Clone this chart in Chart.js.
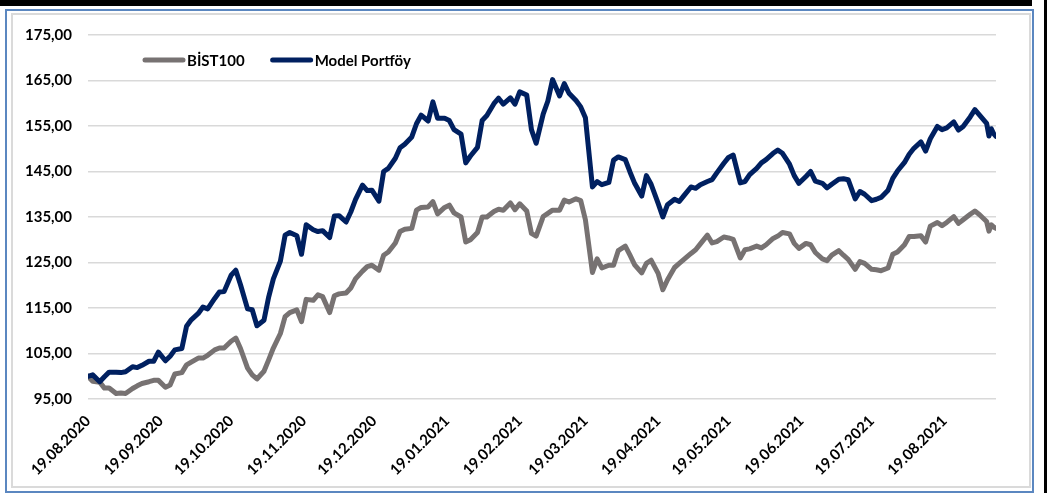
<!DOCTYPE html>
<html>
<head>
<meta charset="utf-8">
<script src="https://cdn.jsdelivr.net/npm/chart.js@4.4.0/dist/chart.umd.min.js"></script>
<style>
html,body{margin:0;padding:0;background:#fff;}
#wrap{position:relative;width:1049px;height:503px;overflow:hidden;background:#fff;}
.topbar{position:absolute;left:0;top:0;width:1032px;height:6px;background:#000;}
.rightbar{position:absolute;left:1044px;top:0;width:3px;height:493px;background:#000;}
.outer{position:absolute;left:5px;top:9px;width:1029px;height:484px;border:2px solid #5b87c0;box-sizing:border-box;}
.inner{position:absolute;left:11px;top:13px;width:1020px;height:475px;border:2px solid #dadada;box-sizing:border-box;}
canvas{position:absolute;left:0;top:0;}
</style>
</head>
<body>
<div id="wrap">
  <div class="topbar"></div>
  <div class="rightbar"></div>
  <div class="outer"></div>
  <div class="inner"></div>
  <canvas id="c" width="1049" height="503"></canvas>
</div>
<script>
// ---- DATA ----
const dates = [
"19.08.2020","21.08.2020","24.08.2020","26.08.2020","28.08.2020","31.08.2020",
"02.09.2020","04.09.2020","07.09.2020","09.09.2020","11.09.2020","14.09.2020",
"16.09.2020","18.09.2020","21.09.2020","23.09.2020","25.09.2020","28.09.2020",
"30.09.2020","02.10.2020","05.10.2020","07.10.2020","09.10.2020","12.10.2020",
"14.10.2020","16.10.2020","19.10.2020","21.10.2020","23.10.2020","26.10.2020",
"28.10.2020","30.10.2020","02.11.2020","04.11.2020","06.11.2020","09.11.2020",
"11.11.2020","13.11.2020","16.11.2020","18.11.2020","20.11.2020","23.11.2020",
"25.11.2020","27.11.2020","30.11.2020","02.12.2020","04.12.2020","07.12.2020",
"09.12.2020","11.12.2020","14.12.2020","16.12.2020","18.12.2020","21.12.2020",
"23.12.2020","25.12.2020","28.12.2020","30.12.2020","01.01.2021","04.01.2021",
"06.01.2021","08.01.2021","11.01.2021","13.01.2021","15.01.2021","18.01.2021",
"20.01.2021","22.01.2021","25.01.2021","27.01.2021","29.01.2021","01.02.2021",
"03.02.2021","05.02.2021","08.02.2021","10.02.2021","12.02.2021","15.02.2021",
"17.02.2021","19.02.2021","22.02.2021","24.02.2021","26.02.2021","01.03.2021",
"03.03.2021","05.03.2021","08.03.2021","10.03.2021","12.03.2021","15.03.2021",
"17.03.2021","19.03.2021","22.03.2021","24.03.2021","26.03.2021","29.03.2021",
"31.03.2021","02.04.2021","05.04.2021","07.04.2021","09.04.2021","12.04.2021",
"14.04.2021","16.04.2021","19.04.2021","21.04.2021","23.04.2021","26.04.2021",
"28.04.2021","30.04.2021","03.05.2021","05.05.2021","07.05.2021","10.05.2021",
"12.05.2021","14.05.2021","17.05.2021","19.05.2021","21.05.2021","24.05.2021",
"26.05.2021","28.05.2021","31.05.2021","02.06.2021","04.06.2021","07.06.2021",
"09.06.2021","11.06.2021","14.06.2021","16.06.2021","18.06.2021","21.06.2021",
"23.06.2021","25.06.2021","28.06.2021","30.06.2021","02.07.2021","05.07.2021",
"07.07.2021","09.07.2021","12.07.2021","14.07.2021","16.07.2021","19.07.2021",
"21.07.2021","23.07.2021","26.07.2021","28.07.2021","30.07.2021","02.08.2021",
"04.08.2021","06.08.2021","09.08.2021","11.08.2021","13.08.2021","16.08.2021",
"18.08.2021","20.08.2021","23.08.2021","25.08.2021","27.08.2021","30.08.2021",
"01.09.2021","03.09.2021","06.09.2021","07.09.2021","08.09.2021","09.09.2021","10.09.2021"
];

const bist100 = [
100.0,98.9,98.7, 97.4,97.4,96.2, 96.3,96.2,97.3, 97.9,98.4,98.8,
99.1,99.1,97.6, 98.1,100.5,100.8, 102.5,103.1,104.0, 104.0,104.6,105.8,
106.2,106.2,107.7, 108.4,106.1,101.8, 100.3,99.4,101.1, 103.6,106.2,109.4,
113.1,114.0,114.6, 112.0,116.9,116.7, 117.9,117.5,114.0, 117.7,118.1,118.3,
119.4,121.4,123.1, 124.1,124.4,123.3, 126.6,127.3,129.3, 131.8,132.3,132.5,
136.5,137.1,137.2, 138.4,135.7,137.1, 137.6,135.9,135.0, 129.5,130.0,131.6,
135.0,135.0,136.2, 136.7,136.5,138.1, 136.6,137.9,136.3, 131.4,130.8,135.1,
135.8,136.5,136.5, 138.7,138.3,139.0, 138.6,134.4,122.8, 125.8,123.8,124.4,
124.4,127.6,128.6, 126.6,124.5,122.7, 124.8,125.5,122.6, 119.0,121.2,123.9,
124.8,125.7,127.0, 127.8,129.1,131.0, 129.3,129.6,130.6, 130.4,130.1,126.0,
127.8,128.0,128.6, 128.2,128.9,130.3, 130.8,131.6,131.3, 129.2,128.1,129.2,
128.9,127.2,125.8, 125.4,126.6,127.6, 126.6,125.7,123.5, 125.2,124.8,123.5,
123.4,123.2,123.8, 126.8,127.3,128.9, 130.7,130.7,130.9, 129.5,133.0,133.8,
133.1,133.8,135.1, 133.6,134.4,135.6, 136.3,135.5,134.0, 131.9,133.3,132.8,132.5
];

const modelPortfoy = [
100.0,100.3,98.8, 99.9,100.9,100.9, 100.8,101.0,102.1, 101.9,102.4,103.3,
103.3,105.3,103.4, 104.4,105.8,106.1, 111.0,112.4,113.8, 115.2,114.8,117.1,
118.5,118.6,122.2, 123.3,120.1,114.8, 114.6,111.1,112.3, 117.4,121.4,125.3,
131.0,131.6,130.9, 126.8,133.3,132.2, 131.8,132.0,130.5, 135.2,135.3,133.9,
136.1,138.8,142.0, 140.8,140.9,138.5, 145.0,145.7,147.9, 150.2,151.0,152.6,
155.5,157.4,156.1, 160.3,156.7,156.7, 156.2,154.2,153.2, 146.9,148.4,150.3,
156.2,157.3,159.9, 161.1,159.8,161.2, 159.8,162.5,161.8, 154.2,151.2,157.6,
160.5,165.2,161.6, 164.3,162.2,160.6, 159.2,156.8,141.6, 142.8,142.1,142.6,
147.5,148.2,147.6, 144.9,142.4,139.6, 144.1,142.2,138.0, 135.0,137.7,138.9,
138.4,139.7,141.6, 141.3,142.1,142.8, 143.2,144.7,146.8, 148.1,148.6,142.5,
142.8,144.3,145.7, 146.9,147.6,149.0, 149.7,149.0,146.6, 144.1,142.4,143.9,
145.0,142.9,142.4, 141.4,142.2,143.3, 143.4,143.2,139.0, 140.6,140.0,138.6,
138.9,139.3,140.9, 143.5,145.1,147.0, 148.8,150.1,151.5, 149.5,152.2,154.9,
154.2,154.6,155.9, 154.1,154.9,157.0, 158.6,157.4,155.6, 152.8,154.4,153.3,152.7
];

const seriesNames = ["BİST100", "Model Portföy"];
const seriesColors = ["#777272", "#002060"];

const xTickLabels = [
"19.08.2020","19.09.2020","19.10.2020","19.11.2020","19.12.2020","19.01.2021",
"19.02.2021","19.03.2021","19.04.2021","19.05.2021","19.06.2021","19.07.2021","19.08.2021"
];

const yMin = 95, yMax = 175, yStep = 10;

// ---- helpers ----
const dayMs = 86400000;
function parseDay(s) {
  const [d, m, y] = s.split(".").map(Number);
  return Math.round(Date.UTC(y, m - 1, d) / dayMs);
}
const xs = dates.map(parseDay);
const tickDays = xTickLabels.map(parseDay);
const toPoints = vals => vals.map((v, i) => ({ x: xs[i], y: v }));

const FONT = "Lato";

const insideLegend = {
  id: "insideLegend",
  afterDraw(chart) {
    const ctx = chart.ctx, ca = chart.chartArea;
    let x = ca.left + 57;
    const y = ca.top + 25;
    ctx.save();
    ctx.font = "bold 15px " + FONT;
    ctx.textBaseline = "middle";
    ctx.textAlign = "left";
    [0, 1].forEach(i => {
      const ds = chart.data.datasets[i];
      ctx.strokeStyle = ds.borderColor;
      ctx.lineWidth = 5;
      ctx.lineCap = "round";
      ctx.beginPath();
      ctx.moveTo(x, y);
      ctx.lineTo(x + 38, y);
      ctx.stroke();
      ctx.fillStyle = "#000";
      ctx.fillText(ds.label, x + 42, y + 1);
      x += 42 + ctx.measureText(ds.label).width + 28;
    });
    ctx.restore();
  }
};

new Chart(document.getElementById("c"), {
  type: "line",
  data: {
    datasets: [
      { label: seriesNames[0], data: toPoints(bist100), borderColor: seriesColors[0], backgroundColor: seriesColors[0], order: 2 },
      { label: seriesNames[1], data: toPoints(modelPortfoy), borderColor: seriesColors[1], backgroundColor: seriesColors[1], order: 1 }
    ]
  },
  options: {
    responsive: false,
    animation: false,
    devicePixelRatio: 1,
    layout: { padding: { left: 0, right: 53, top: 35, bottom: 0 } },
    elements: {
      line: { borderWidth: 5, tension: 0, borderJoinStyle: "round", borderCapStyle: "round" },
      point: { radius: 0, hoverRadius: 0 }
    },
    plugins: { legend: { display: false }, tooltip: { enabled: false } },
    scales: {
      x: {
        type: "linear",
        min: xs[0],
        max: xs[xs.length - 1],
        grid: { display: false },
        border: { display: false },
        afterFit: s => { s.height = 104; },
        afterBuildTicks: s => { s.ticks = tickDays.map(v => ({ value: v })); },
        ticks: {
          autoSkip: false,
          maxRotation: 45,
          minRotation: 45,
          padding: 5,
          color: "#000",
          font: { family: FONT, weight: "bold", size: 15 },
          callback: v => { const i = tickDays.indexOf(v); return i >= 0 ? xTickLabels[i] : ""; }
        }
      },
      y: {
        min: yMin,
        max: yMax,
        grid: { color: "#d9d9d9", lineWidth: 1.5, drawTicks: false },
        border: { display: false },
        afterFit: s => { s.width = 88; },
        ticks: {
          stepSize: yStep,
          padding: 16,
          color: "#000",
          font: { family: FONT, weight: "bold", size: 15 },
          callback: v => v.toFixed(2).replace(".", ",")
        }
      }
    }
  },
  plugins: [insideLegend]
});
</script>
</body>
</html>
